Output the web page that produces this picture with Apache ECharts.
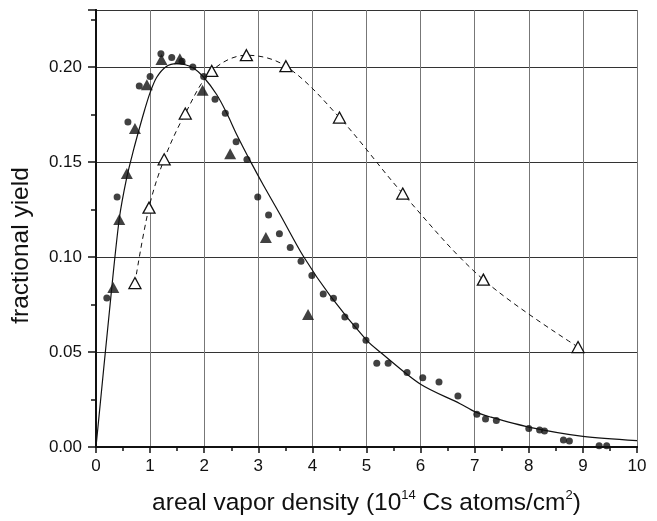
<!DOCTYPE html>
<html>
<head>
<meta charset="utf-8">
<script src="https://cdn.jsdelivr.net/npm/echarts@6/dist/echarts.min.js"></script>
<style>html,body{margin:0;padding:0;background:#fff}#c{width:657px;height:521px}</style>
</head>
<body>
<div id="c"></div>
<script>
// Filled circles: measured yield vs areal vapor density
const circlePoints = [
  [0.20,0.0784],[0.39,0.1316],[0.59,0.171],[0.80,0.190],[1.00,0.195],[1.20,0.207],
  [1.40,0.205],[1.59,0.203],[1.79,0.200],[1.99,0.195],[2.20,0.183],[2.39,0.1756],
  [2.59,0.1607],[2.79,0.1513],[2.99,0.1316],[3.19,0.1221],[3.39,0.1123],[3.59,0.105],
  [3.79,0.0977],[3.99,0.0902],[4.20,0.0805],[4.39,0.0783],[4.60,0.0684],[4.80,0.0637],
  [4.99,0.0562],[5.19,0.0441],[5.40,0.0441],[5.75,0.0392],[6.04,0.0365],[6.34,0.0342],
  [6.69,0.0268],[7.04,0.0172],[7.20,0.0147],[7.40,0.0139],[8.00,0.0098],[8.20,0.0090],
  [8.29,0.0084],[8.64,0.0037],[8.75,0.0032],[9.30,0.0007],[9.44,0.0007]
];
// Filled triangles
const filledTriangles = [
  [0.32,0.0839],[0.43,0.1198],[0.57,0.1439],[0.72,0.1676],[0.94,0.1907],[1.21,0.2039],
  [1.55,0.2044],[1.97,0.1877],[2.48,0.1544],[3.14,0.1102],[3.92,0.0698]
];
// Open triangles (joined by dashed curve)
const openTriangles = [
  [0.72,0.0863],[0.98,0.1260],[1.26,0.1514],[1.65,0.1755],[2.14,0.1979],[2.78,0.2062],
  [3.51,0.2004],[4.50,0.1734],[5.67,0.1334],[7.16,0.0881],[8.91,0.0526]
];
// Solid fit curve
const fitCurve = [
  [0,0],[0.25,0.072],[0.43,0.120],[0.57,0.142],[0.70,0.157],[0.80,0.1675],[0.90,0.1775],
  [1.00,0.1865],[1.12,0.1945],[1.30,0.2003],[1.49,0.2018],[1.65,0.2012],[1.80,0.1995],
  [1.98,0.195],[2.23,0.1855],[2.42,0.1755],[2.60,0.1645],[2.88,0.149],[3.10,0.1375],
  [3.40,0.1225],[3.83,0.1005],[4.33,0.0795],[5.00,0.0562],[5.25,0.050],[6.00,0.033],
  [6.73,0.0228],[7.00,0.0186],[7.29,0.0158],[8.00,0.0105],[9.00,0.0056],[10.0,0.0034]
];
const xTitle = 'areal vapor density (10{sup|14} Cs atoms/cm{sup|2})';
const yTitle = 'fractional yield';

const font = 'Liberation Sans, Arial, sans-serif';
const chart = echarts.init(document.getElementById('c'), null, {renderer: 'canvas'});
const isMajorY = v => Math.abs(Math.round(v / 0.05) * 0.05 - v) < 1e-9;

chart.setOption({
  animation: false,
  backgroundColor: '#fff',
  grid: {left: 96, right: 20, top: 10, bottom: 74, containLabel: false},
  xAxis: [{
    type: 'value', min: 0, max: 10, interval: 1, position: 'bottom',
    axisLine: {show: true, lineStyle: {color: '#111', width: 2}},
    axisTick: {show: true, inside: false, length: 6, lineStyle: {color: '#111', width: 1.5}},
    minorTick: {show: true, splitNumber: 2, length: 4, lineStyle: {color: '#111', width: 1.5}},
    splitLine: {show: true, lineStyle: {color: '#777', width: 1}},
    axisLabel: {color: '#111', fontFamily: font, fontSize: 17, margin: 11},
    name: xTitle, nameLocation: 'middle', nameGap: 42,
    nameTextStyle: {color: '#111', fontFamily: font, fontSize: 24.5,
      rich: {sup: {fontSize: 13, fontFamily: font, color: '#111', verticalAlign: 'top', lineHeight: 28}}}
  }, {
    type: 'value', min: 0, max: 10, interval: 1, position: 'top',
    axisLine: {show: true, lineStyle: {color: '#111', width: 2}},
    axisTick: {show: true, inside: true, length: 5, lineStyle: {color: '#111', width: 1.5}},
    minorTick: {show: true, splitNumber: 2, length: 4, lineStyle: {color: '#111', width: 1.5}},
    splitLine: {show: false}, axisLabel: {show: false}
  }],
  yAxis: [{
    type: 'value', min: 0, max: 0.23, interval: 0.05, position: 'left',
    axisLine: {show: true, lineStyle: {color: '#111', width: 2}},
    axisTick: {show: true, inside: false, length: 8, lineStyle: {color: '#111', width: 1.5}},
    minorTick: {show: true, splitNumber: 2, length: 5, lineStyle: {color: '#111', width: 1.5}},
    splitLine: {show: true, lineStyle: {color: '#333', width: 1}},
    axisLabel: {color: '#111', fontFamily: font, fontSize: 17, margin: 14,
      formatter: v => isMajorY(v) ? v.toFixed(2) : ''},
    name: yTitle, nameLocation: 'middle', nameGap: 62,
    nameTextStyle: {color: '#111', fontFamily: font, fontSize: 24.5, padding: [0, 34, 0, 0]}
  }, {
    type: 'value', min: 0, max: 0.23, interval: 0.05, position: 'right',
    axisLine: {show: true, lineStyle: {color: '#111', width: 2}},
    axisTick: {show: true, inside: true, length: 7, lineStyle: {color: '#111', width: 1.5}},
    minorTick: {show: true, splitNumber: 2, length: 5, lineStyle: {color: '#111', width: 1.5}},
    splitLine: {show: false}, axisLabel: {show: false}
  }],
  series: [{
    type: 'line', data: fitCurve, smooth: 0.3, showSymbol: false, z: 2,
    lineStyle: {color: '#111', width: 1.2}
  }, {
    type: 'line', data: openTriangles, smooth: 0.35, symbol: 'triangle', symbolSize: [12, 11], z: 3,
    lineStyle: {color: '#111', width: 1, type: [5, 4]},
    itemStyle: {color: '#fff', borderColor: '#111', borderWidth: 1.3}
  }, {
    type: 'scatter', data: circlePoints, symbol: 'circle', symbolSize: 7, z: 4,
    itemStyle: {color: '#111'}
  }, {
    type: 'scatter', data: filledTriangles, symbol: 'triangle', symbolSize: [12, 11], z: 4,
    itemStyle: {color: '#111'}
  }]
});
</script>
</body>
</html>
